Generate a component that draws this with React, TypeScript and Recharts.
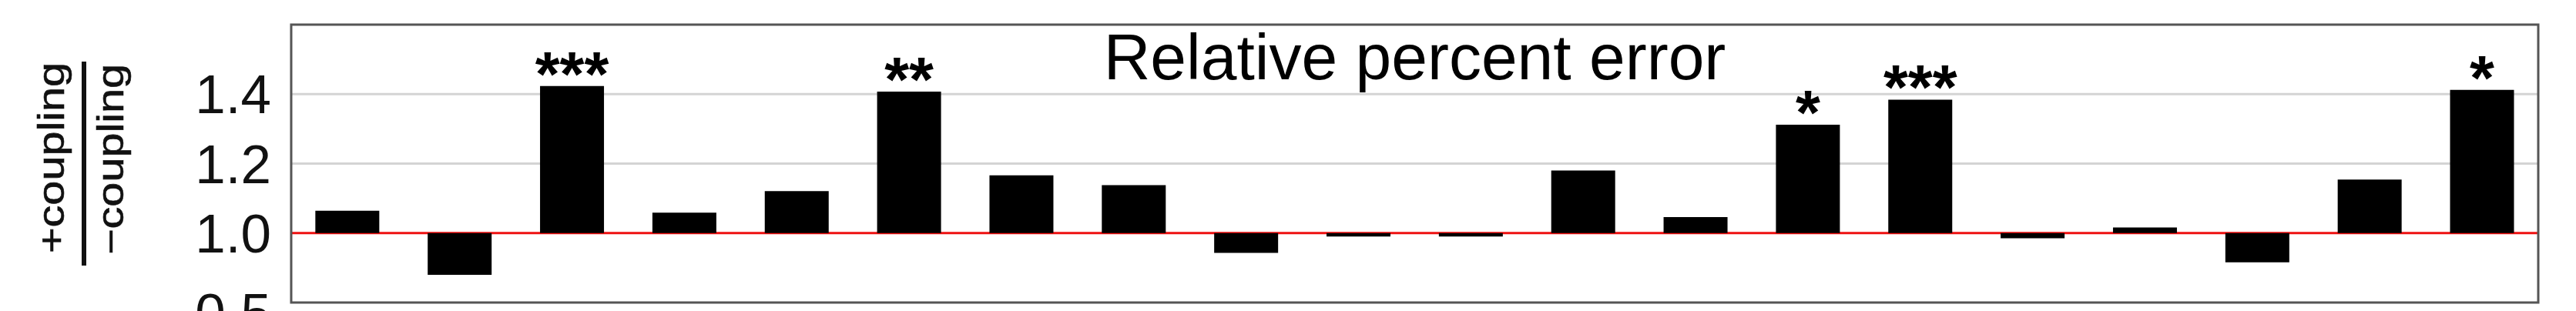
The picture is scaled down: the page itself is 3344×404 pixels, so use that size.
import React from "react";
import {
  BarChart,
  Bar,
  XAxis,
  YAxis,
  CartesianGrid,
  ReferenceArea,
  LabelList,
} from "recharts";

// 20 conditions, ratio of +coupling to -coupling relative percent error
const categories = [
  "1", "2", "3", "4", "5", "6", "7", "8", "9", "10",
  "11", "12", "13", "14", "15", "16", "17", "18", "19", "20",
];
const ratios = [
  1.064, 0.88, 1.423, 1.059, 1.121, 1.407, 1.166, 1.138, 0.943, 0.99,
  0.99, 1.18, 1.046, 1.312, 1.384, 0.985, 1.016, 0.916, 1.154, 1.412,
];
const significance = [
  "", "", "***", "", "", "**", "", "", "", "",
  "", "", "", "*", "***", "", "", "", "", "*",
];

// axis is broken below 1.0 in the original figure; lowest tick reads 0.5
const tickValues = [0.8, 1.0, 1.2, 1.4];
const tickLabels = ["0.5", "1.0", "1.2", "1.4"];
const gridValues = [1.2, 1.4];
const baseline = [1.0];

const FONT = "'Liberation Sans', Arial, sans-serif";

const data = categories.map((name, i) => ({
  name,
  range: [Math.min(1, ratios[i]), Math.max(1, ratios[i])],
  star: significance[i],
}));

function YTick(props: any) {
  const { x, y, payload } = props;
  const idx = tickValues.indexOf(payload.value);
  const label = idx >= 0 ? tickLabels[idx] : String(payload.value);
  // the broken-axis label sits just under the frame
  const shift = idx === 0 ? 13 : 0;
  return (
    <text
      x={x}
      y={y + shift}
      dy="0.355em"
      textAnchor="end"
      fontSize={71}
      fontFamily={FONT}
      fill="#111"
    >
      {label}
    </text>
  );
}

function YLabel(props: any) {
  const vb = props.viewBox || { x: 0, y: 0 };
  const ox = vb.x;
  const oy = vb.y;
  return (
    <g fontFamily={FONT} fontSize={48} fill="#111" stroke="#111" strokeWidth={0.6}>
      <text
        transform={`translate(${ox + 83},${oy + 173}) rotate(-90) scale(1.2,1)`}
        textAnchor="middle"
      >
        +coupling
      </text>
      <rect x={ox + 106} y={oy + 48} width={6} height={265} stroke="none" />
      <text
        transform={`translate(${ox + 160},${oy + 175}) rotate(-90) scale(1.2,1)`}
        textAnchor="middle"
      >
        −coupling
      </text>
    </g>
  );
}

function Title(props: any) {
  const vb = props.viewBox;
  if (!vb) return null;
  return (
    <text
      x={vb.x + vb.width / 2}
      y={vb.y + 71}
      textAnchor="middle"
      fontSize={84}
      fontFamily={FONT}
      fill="#000"
    >
      Relative percent error
    </text>
  );
}

function Star(props: any) {
  const { x, y, width, value } = props;
  if (!value) return null;
  return (
    <text
      x={x + width / 2}
      y={y + 12}
      textAnchor="middle"
      fontSize={82}
      fontWeight={700}
      fontFamily={FONT}
      fill="#000"
    >
      {value}
    </text>
  );
}

export default function App() {
  return (
    <div
      style={{
        position: "absolute",
        left: 0,
        top: 0,
        width: 3344,
        height: 404,
        overflow: "hidden",
        background: "#fff",
      }}
    >
      <BarChart
        width={3344}
        height={404}
        data={data}
        margin={{ top: 32, right: 49, bottom: 11, left: 0 }}
        barCategoryGap="21.5%"
      >
        <CartesianGrid
          vertical={false}
          horizontalValues={gridValues}
          stroke="#d4d4d4"
          strokeWidth={3}
        />
        <CartesianGrid
          vertical={false}
          horizontalValues={baseline}
          stroke="#ee1111"
          strokeWidth={3}
        />
        <XAxis dataKey="name" hide />
        <YAxis
          width={378}
          domain={[0.8, 1.6]}
          ticks={tickValues}
          axisLine={false}
          tickLine={false}
          tickSize={0}
          tickMargin={26}
          tick={<YTick />}
          label={<YLabel />}
        />
        <Bar dataKey="range" fill="#000" isAnimationActive={false}>
          <LabelList dataKey="star" content={<Star />} />
        </Bar>
        <ReferenceArea
          y1={0.8}
          y2={1.6}
          fill="none"
          stroke="#555"
          strokeWidth={3}
          label={<Title />}
        />
      </BarChart>
    </div>
  );
}
